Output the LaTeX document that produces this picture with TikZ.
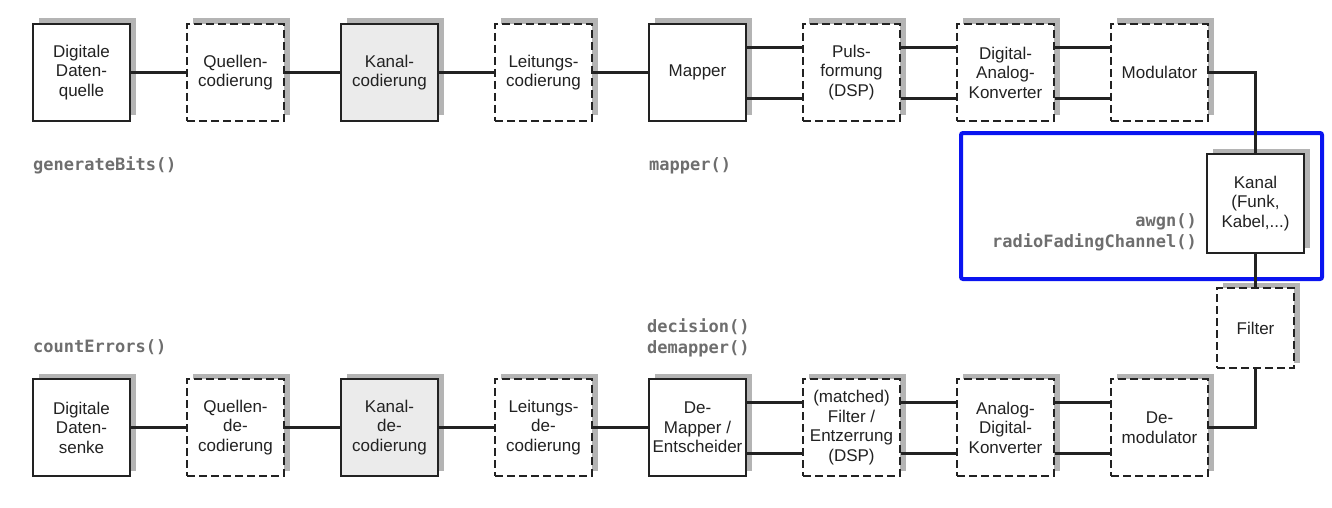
\documentclass[tikz,border=0pt]{standalone}
\usepackage{fontspec}
\setmainfont{Liberation Sans}
\newfontfamily\codefont{DejaVu Sans Mono}
\usetikzlibrary{shadows,calc}
\definecolor{ink}{HTML}{222222}
\definecolor{shd}{HTML}{B4B4B4}
\definecolor{kfill}{HTML}{EBEBEB}
\definecolor{codegray}{HTML}{6E6E6E}
\definecolor{bluebox}{HTML}{0A14F0}
\tikzset{
  blk/.style={draw=ink, line width=2pt, fill=white, minimum width=97pt, minimum height=97pt,
    inner sep=0pt, align=center, text=ink, font=\fontsize{17}{19.5}\selectfont,
    drop shadow={shadow xshift=5.5pt, shadow yshift=5.5pt, fill=shd, opacity=1}},
  dblk/.style={blk, dash pattern=on 8pt off 4pt},
  gblk/.style={blk, fill=kfill},
  conn/.style={draw=ink, line width=2.6pt},
  code/.style={font=\codefont\bfseries\fontsize{17}{21}\selectfont, text=codegray, inner sep=0pt}
}
\begin{document}
\begin{tikzpicture}[x=1pt,y=-1pt]
\useasboundingbox (0,0) rectangle (1332,508);
% blue frame
\draw[bluebox, line width=4pt, rounded corners=2pt] (961,133) rectangle (1322,279);
% top row
\node[blk]  (t1) at (81.5,72.5)   {Digitale\\Daten-\\quelle};
\node[dblk] (t2) at (235.5,72.5)  {Quellen-\\codierung};
\node[gblk] (t3) at (389.5,72.5)  {Kanal-\\codierung};
\node[dblk] (t4) at (543.5,72.5)  {Leitungs-\\codierung};
\node[blk]  (t5) at (697.5,72.5)  {Mapper};
\node[dblk] (t6) at (851.5,72.5)  {Puls-\\formung\\(DSP)};
\node[dblk] (t7) at (1005.5,72.5) {Digital-\\Analog-\\Konverter};
\node[dblk] (t8) at (1159.5,72.5) {Modulator};
% channel and filter
\node[blk, minimum height=99pt] (ch) at (1255.5,203.5) {Kanal\\(Funk,\\Kabel,...)};
\node[dblk, minimum width=77pt, minimum height=80pt] (fi) at (1255.5,328) {Filter};
% bottom row
\node[blk]  (b1) at (81.5,427.5)   {Digitale\\Daten-\\senke};
\node[dblk] (b2) at (235.5,427.5)  {Quellen-\\de-\\codierung};
\node[gblk] (b3) at (389.5,427.5)  {Kanal-\\de-\\codierung};
\node[dblk] (b4) at (543.5,427.5)  {Leitungs-\\de-\\codierung};
\node[blk]  (b5) at (697.5,427.5)  {De-\\Mapper /\\Entscheider};
\node[dblk] (b6) at (851.5,427.5)  {(matched)\\Filter /\\Entzerrung\\(DSP)};
\node[dblk] (b7) at (1005.5,427.5) {Analog-\\Digital-\\Konverter};
\node[dblk] (b8) at (1159.5,427.5) {De-\\modulator};
% connectors top
\draw[conn] (t1.east) -- (t2.west);
\draw[conn] (t2.east) -- (t3.west);
\draw[conn] (t3.east) -- (t4.west);
\draw[conn] (t4.east) -- (t5.west);
\foreach \a/\b in {t5/t6,t6/t7,t7/t8,b5/b6,b6/b7,b7/b8}{
  \draw[conn] ($(\a.east)+(0,-25)$) -- ($(\b.west)+(0,-25)$);
  \draw[conn] ($(\a.east)+(0,26)$) -- ($(\b.west)+(0,26)$);
}
\draw[conn] (t8.east) -| (ch.north);
\draw[conn] (ch.south) -- (fi.north);
\draw[conn] (fi.south) |- (b8.east);
% connectors bottom
\draw[conn] (b5.west) -- (b4.east);
\draw[conn] (b4.west) -- (b3.east);
\draw[conn] (b3.west) -- (b2.east);
\draw[conn] (b2.west) -- (b1.east);
% code labels
\node[code, anchor=base west] (c1) at (33,170) {generateBits()};
\node[code, anchor=base west] (c2) at (649,170) {mapper()};
\node[code, anchor=base west] (c3) at (33,352) {countErrors()};
\node[code, anchor=base west] (c4) at (647,332) {decision()};
\node[code, anchor=base west] (c5) at (647,353) {demapper()};
\node[code, anchor=base east] (c6) at (1197,226) {awgn()};
\node[code, anchor=base east] (c7) at (1197,247) {radioFadingChannel()};
\end{tikzpicture}
\end{document}
